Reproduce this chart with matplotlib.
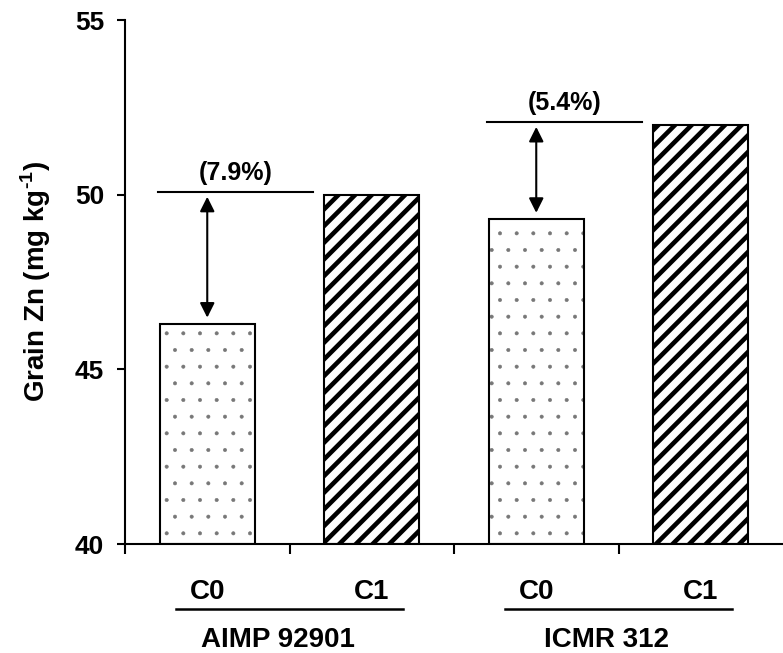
import numpy as np
import matplotlib
matplotlib.use("Agg")
import matplotlib.pyplot as plt
from matplotlib.transforms import blended_transform_factory

# data
groups = ["AIMP 92901", "ICMR 312"]
treatments = ["C0", "C1", "C0", "C1"]
grain_zn = [46.3, 50.0, 49.3, 52.0]
increase_labels = ["(7.9%)", "(5.4%)"]

plt.rcParams['font.family'] = ['Liberation Sans', 'DejaVu Sans']
plt.rcParams['font.weight'] = 'bold'
plt.rcParams['mathtext.fontset'] = 'custom'
plt.rcParams['mathtext.rm'] = 'Liberation Sans:bold'
plt.rcParams['mathtext.bf'] = 'Liberation Sans:bold'

fig = plt.figure(figsize=(7.83, 6.53), dpi=100)
ax = fig.add_axes([125 / 783, 109 / 653, 658 / 783, 524 / 653])

x = np.arange(len(grain_zn))
w = 0.58
c0_idx = [0, 2]
c1_idx = [1, 3]

# C0 bars: sparse grey dots
with plt.rc_context({'hatch.linewidth': 0.4}):
    ax.bar(x[c0_idx], [grain_zn[i] - 40 for i in c0_idx], w, bottom=40,
           color='white', edgecolor='#777777', linewidth=0, hatch='.', zorder=2)
ax.bar(x[c0_idx], [grain_zn[i] - 40 for i in c0_idx], w, bottom=40,
       color='none', edgecolor='black', linewidth=1.5, zorder=3)

# C1 bars: thick diagonal stripes
with plt.rc_context({'hatch.linewidth': 3.3}):
    ax.bar(x[c1_idx], [grain_zn[i] - 40 for i in c1_idx], w, bottom=40,
           color='white', edgecolor='black', linewidth=1.5, hatch='//', zorder=2)

ax.set_ylim(40, 55)
ax.set_xlim(-0.5, 3.5)
ax.set_yticks([40, 45, 50, 55])
ax.tick_params(axis='y', which='major', direction='out', length=6, width=1.5,
               pad=9, labelsize=19)
ax.set_xticks([-0.5, 0.5, 1.5, 2.5])
ax.set_xticklabels([])
ax.tick_params(axis='x', which='major', direction='out', length=7, width=1.5)
ax.set_xticks(x, minor=True)
ax.set_xticklabels(treatments, minor=True)
ax.tick_params(axis='x', which='minor', length=0, pad=25, labelsize=20)

for s in ['top', 'right']:
    ax.spines[s].set_visible(False)
for s in ['left', 'bottom']:
    ax.spines[s].set_linewidth(1.5)

ax.set_ylabel("Grain Zn (mg kg$^{\\text{-1}}$)", fontsize=20, fontweight='bold', labelpad=16)

# increase markers
for k, (i0, i1) in enumerate(zip(c0_idx, c1_idx)):
    top = grain_zn[i1] + 0.07
    ax.plot([x[i0] - 0.3, x[i0] + 0.645], [top, top], color='black', lw=1.5, zorder=4)
    ax.annotate("", xy=(x[i0], top - 0.13), xytext=(x[i0], grain_zn[i0] + 0.18),
                arrowprops=dict(arrowstyle='<|-|>', color='black', lw=1.5,
                                mutation_scale=22, shrinkA=0, shrinkB=0), zorder=4)
    ax.text(x[i0] + 0.17, top + 0.22, increase_labels[k], ha='center', va='bottom',
            fontsize=18, fontweight='bold')

# group labels with underline
tr = blended_transform_factory(ax.transData, ax.transAxes)
for g, name in enumerate(groups):
    start = 2 * g
    ax.plot([start - 0.19, start + 1.19], [-0.124, -0.124], transform=tr,
            color='black', lw=1.8, clip_on=False)
    ax.text(start + 0.43, -0.183, name, transform=tr, ha='center', va='center',
            fontsize=20, fontweight='bold')

fig.savefig("out.png", dpi=100)
